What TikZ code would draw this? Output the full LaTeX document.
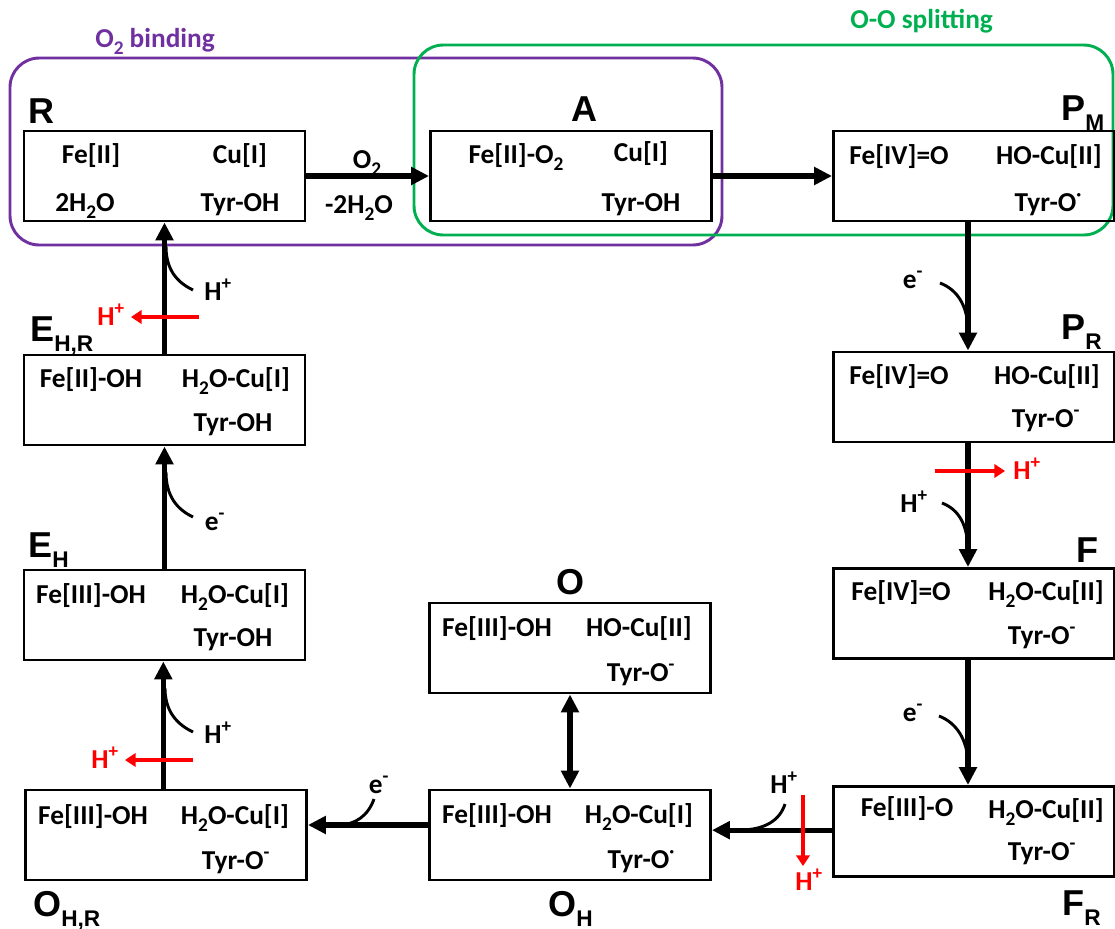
\documentclass[tikz,border=0pt]{standalone}
\usepackage{fontspec}
\setmainfont{Carlito}
\newfontfamily\labfont{Liberation Sans}
\usetikzlibrary{arrows.meta}
\definecolor{myPurple}{HTML}{7030A0}
\definecolor{myGreen}{HTML}{00B050}
\newcommand{\stlab}[2]{{\labfont\bfseries\fontsize{27}{27}\selectfont #1\raisebox{-7.5pt}{\fontsize{17}{17}\selectfont #2}}}
\newcommand{\sbs}[1]{\raisebox{-5.5pt}{\fontsize{14.5}{14.5}\selectfont #1}}
\newcommand{\radsup}{\raisebox{8pt}{\fontsize{14}{14}\selectfont ·}}
\newcommand{\negsup}{\textsuperscript{-}}
\begin{document}
\begin{tikzpicture}[x=0.75pt,y=-0.75pt,
  txt/.style={font=\bfseries\fontsize{20.5}{20.5}\selectfont, inner sep=0pt, anchor=base},
  box/.style={draw, line width=2.2pt, minimum width=210.75pt, minimum height=67.5pt, inner sep=0pt},
  lbl/.style={inner sep=0pt, anchor=base west},
  mainarr/.style={line width=4pt, -{Triangle[length=13.5pt,width=13pt]}},
  dblarr/.style={line width=4pt, {Triangle[length=13.5pt,width=13pt]}-{Triangle[length=13.5pt,width=13pt]}},
  bendline/.style={line width=2.2pt},
  redarr/.style={draw=red, line width=2.8pt, -{Triangle[length=8pt,width=10pt]}},
  redtxt/.style={txt, text=red},
]
\useasboundingbox (0,0) rectangle (1115,929);

% group frames
\draw[myPurple, line width=2.2pt, rounded corners=22pt] (10,58) rectangle (722,245);
\draw[myGreen, line width=2.2pt, rounded corners=22pt] (414,45) rectangle (1113,235);
\node[lbl, text=myPurple, font=\bfseries\fontsize{20.5}{20.5}\selectfont] (tbind) at (95,47) {O\sbs{2} binding};
\node[lbl, text=myGreen, font=\bfseries\fontsize{20.5}{20.5}\selectfont] (tsplit) at (850,28) {O-O splitting};

% boxes
\node[box] (R) at (164.5,176) {};
\node[box] (A) at (571,176) {};
\node[box] (PM) at (974,176) {};
\node[box] (PR) at (974,397) {};
\node[box] (F) at (974,613.5) {};
\node[box] (FR) at (974,831.5) {};
\node[box] (O) at (570,648) {};
\node[box] (OH) at (570,835) {};
\node[box] (OHR) at (166,835) {};
\node[box] (EH) at (164.5,615) {};
\node[box] (EHR) at (164.5,400) {};

% state labels
\node[lbl] (lR) at (28,123) {\stlab{R}{}};
\node[lbl] (lA) at (571,121) {\stlab{A}{}};
\node[lbl] (lPM) at (1061,120) {\stlab{P}{M}};
\node[lbl] (lPR) at (1061,339) {\stlab{P}{R}};
\node[lbl] (lF) at (1076,562) {\stlab{F}{}};
\node[lbl] (lFR) at (1062,915) {\stlab{F}{R}};
\node[lbl] (lO) at (556,594) {\stlab{O}{}};
\node[lbl] (lOH) at (548,916) {\stlab{O}{H}};
\node[lbl] (lOHR) at (33,916) {\stlab{O}{H,R}};
\node[lbl] (lEH) at (28,557) {\stlab{E}{H}};
\node[lbl] (lEHR) at (30,341) {\stlab{E}{H,R}};

% box contents
\node[txt] (r1) at (91,163) {Fe[II]};
\node[txt] (r2) at (240,163) {Cu[I]};
\node[txt] (r3) at (85,211) {2H\sbs{2}O};
\node[txt] (r4) at (240,211) {Tyr-OH};

\node[txt] (a1) at (516,163) {Fe[II]-O\sbs{2}};
\node[txt] (a2) at (641,161) {Cu[I]};
\node[txt] (a4) at (641,211) {Tyr-OH};

\node[txt] (pm1) at (899,164) {Fe[IV]=O};
\node[txt] (pm2) at (1049,164) {HO-Cu[II]};
\node[txt] (pm4) at (1048,211) {Tyr-O\radsup};

\node[txt] (pr1) at (899,384) {Fe[IV]=O};
\node[txt] (pr2) at (1047,384) {HO-Cu[II]};
\node[txt] (pr4) at (1046,427) {Tyr-O\negsup};

\node[txt] (f1) at (901,600) {Fe[IV]=O};
\node[txt] (f2) at (1046,600) {H\sbs{2}O-Cu[II]};
\node[txt] (f4) at (1042,644) {Tyr-O\negsup};

\node[txt] (fr1) at (907,816) {Fe[III]-O};
\node[txt] (fr2) at (1046,818) {H\sbs{2}O-Cu[II]};
\node[txt] (fr4) at (1042,860) {Tyr-O\negsup};

\node[txt] (o1) at (497,636) {Fe[III]-OH};
\node[txt] (o2) at (639,636) {HO-Cu[II]};
\node[txt] (o4) at (641,681) {Tyr-O\negsup};

\node[txt] (oh1) at (497,823) {Fe[III]-OH};
\node[txt] (oh2) at (639,823) {H\sbs{2}O-Cu[I]};
\node[txt] (oh4) at (641,868) {Tyr-O\radsup};

\node[txt] (ohr1) at (93,824) {Fe[III]-OH};
\node[txt] (ohr2) at (235,824) {H\sbs{2}O-Cu[I]};
\node[txt] (ohr4) at (236,869) {Tyr-O\negsup};

\node[txt] (eh1) at (91,603) {Fe[III]-OH};
\node[txt] (eh2) at (235,603) {H\sbs{2}O-Cu[I]};
\node[txt] (eh4) at (233,646) {Tyr-OH};

\node[txt] (ehr1) at (91,387) {Fe[II]-OH};
\node[txt] (ehr2) at (236,387) {H\sbs{2}O-Cu[I]};
\node[txt] (ehr4) at (233,431) {Tyr-OH};

% main arrows
\draw[mainarr] (R.east) -- (A.west);
\node[txt] (tO2) at (367,168) {O\sbs{2}};
\node[txt] (tH2O) at (359,213) {-2H\sbs{2}O};
\draw[mainarr] (A.east) -- (PM.west);

\coordinate (pmd) at ([xshift=-4.5pt]PM.south);
\coordinate (prt) at ([xshift=-4.5pt]PR.north);
\coordinate (prd) at ([xshift=-4.5pt]PR.south);
\coordinate (ft) at ([xshift=-4.5pt]F.north);
\coordinate (fd) at ([xshift=-4.5pt]F.south);
\coordinate (frt) at ([xshift=-4.5pt]FR.north);
\draw[mainarr] (pmd) -- (prt);
\draw[mainarr] (prd) -- (ft);
\draw[mainarr] (fd) -- (frt);

\coordinate (frw) at ([yshift=1pt]FR.west);
\draw[mainarr] (frw) -- (frw -| OH.east);
\coordinate (ohw) at ([yshift=7.5pt]OH.west);
\draw[mainarr] (ohw) -- (ohw -| OHR.east);
\draw[dblarr] (O.south) -- (OH.north);

\coordinate (ohrn) at ([xshift=-2pt]OHR.north);
\draw[mainarr] (ohrn) -- (ohrn |- EH.south);
\draw[mainarr] (EH.north) -- (EHR.south);
\draw[mainarr] (EHR.north) -- (R.south);

% side curves and labels
\node[txt] (e1) at (913,288) {e\negsup};
\coordinate (c1s) at (940,283);
\coordinate (c1e) at (968,328);
\draw[bendline] (c1s) .. controls (958,290) and (967,306) .. (c1e);

\node[txt] (h2) at (914,512) {H\textsuperscript{+}};
\coordinate (c2s) at (942,503);
\coordinate (c2e) at (968,548);
\draw[bendline] (c2s) .. controls (960,510) and (967,526) .. (c2e);
\coordinate (r2s) at (935,471);
\coordinate (r2e) at (1005,471);
\node[redtxt] (hr2) at (1027,479) {H\textsuperscript{+}};
\draw[redarr] (r2s) -- (r2e);

\node[txt] (e3) at (913,721) {e\negsup};
\coordinate (c3s) at (939,716);
\coordinate (c3e) at (968,762);
\draw[bendline] (c3s) .. controls (957,723) and (967,740) .. (c3e);

\node[txt] (h4) at (784,793) {H\textsuperscript{+}};
\coordinate (c4s) at (785,804);
\coordinate (c4e) at (740,830);
\draw[bendline] (c4s) .. controls (780,820) and (765,830) .. (c4e);
\coordinate (r4s) at (803,795);
\coordinate (r4e) at (803,866);
\node[redtxt] (hr4) at (809,890) {H\textsuperscript{+}};
\draw[redarr] (r4s) -- (r4e);

\node[txt] (e5) at (379,793) {e\negsup};
\coordinate (c5s) at (374,799);
\coordinate (c5e) at (338,825);
\draw[bendline] (c5s) .. controls (368,816) and (355,825) .. (c5e);

\node[txt] (h6) at (218,743) {H\textsuperscript{+}};
\coordinate (c6s) at (193,732);
\coordinate (c6e) at (165,688);
\draw[bendline] (c6s) .. controls (172,722) and (165,706) .. (c6e);
\coordinate (r6s) at (193,760);
\coordinate (r6e) at (125,760);
\node[redtxt] (hr6) at (105,768) {H\textsuperscript{+}};
\draw[redarr] (r6s) -- (r6e);

\node[txt] (e7) at (215,530) {e\negsup};
\coordinate (c7s) at (193,517);
\coordinate (c7e) at (166,472);
\draw[bendline] (c7s) .. controls (172,507) and (166,490) .. (c7e);

\node[txt] (h8) at (218,300) {H\textsuperscript{+}};
\coordinate (c8s) at (193,290);
\coordinate (c8e) at (166,246);
\draw[bendline] (c8s) .. controls (172,280) and (166,264) .. (c8e);
\coordinate (r8s) at (199,317);
\coordinate (r8e) at (131,317);
\node[redtxt] (hr8) at (111,325) {H\textsuperscript{+}};
\draw[redarr] (r8s) -- (r8e);
\end{tikzpicture}
\end{document}
